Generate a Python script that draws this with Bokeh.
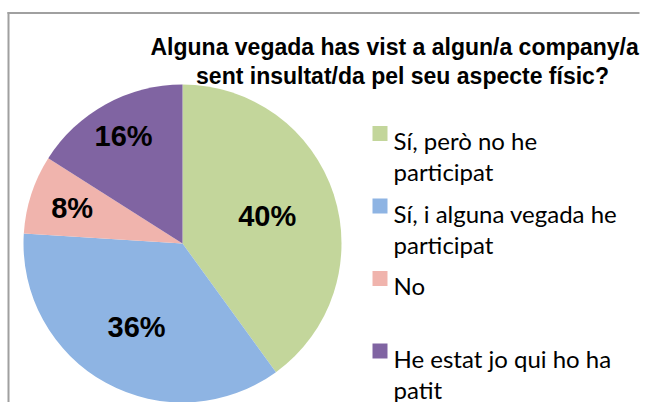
import math
from bokeh.plotting import figure
from bokeh.models import Range1d, ColumnDataSource
from bokeh.core.properties import value
from bokeh.embed import file_html
from bokeh.resources import INLINE

# ---- data ----
title_lines = ["Alguna vegada has vist a algun/a company/a",
               "sent insultat/da pel seu aspecte físic?"]
categories = ["Sí, però no he participat",
              "Sí, i alguna vegada he participat",
              "No",
              "He estat jo qui ho ha patit"]
legend_lines = [["Sí, però no he", "participat"],
                ["Sí, i alguna vegada he", "participat"],
                ["No"],
                ["He estat jo qui ho ha", "patit"]]
values = [40, 36, 8, 16]
colors = ["#C3D69B", "#8EB4E3", "#F0B4AD", "#8064A2"]

# ---- layout (image pixel coordinates) ----
W, H = 641, 402
IMG_H = 418


def Y(y_img):
    return IMG_H - y_img


cx, cy, R = 182, Y(243), 159
label_r = [0.56, 0.60, 0.73, 0.77]

p = figure(width=W, height=H, output_backend="svg", toolbar_location=None,
           x_range=Range1d(0, W), y_range=Range1d(IMG_H - H, IMG_H),
           min_border=0, tools="")
p.axis.visible = False
p.grid.visible = False
p.outline_line_color = None
p.background_fill_color = "white"
p.border_fill_color = "white"

# border of chart area (left and top edges visible), as thin filled bars
p.quad(left=[7, 7], right=[9, W - 2], top=[Y(11.5), Y(11.5)], bottom=[Y(416), Y(13.5)],
       fill_color="#A0A0A0", line_color=None)

# pie
total = float(sum(values))
cum = 0.0
starts, ends, mids = [], [], []
for v in values:
    a0 = math.pi / 2 - cum / total * 2 * math.pi
    cum += v
    a1 = math.pi / 2 - cum / total * 2 * math.pi
    starts.append(a1)
    ends.append(a0)
    mids.append((a0 + a1) / 2)

src = ColumnDataSource(dict(start=starts, end=ends, color=colors,
                            cat=categories, val=values))
p.wedge(x=cx, y=cy, radius=R, start_angle="start", end_angle="end",
        fill_color="color", line_color=None, source=src)

# percentage labels
lx = [cx + R * f * math.cos(m) for f, m in zip(label_r, mids)]
ly = [cy + R * f * math.sin(m) for f, m in zip(label_r, mids)]
pct = ["%d%%" % round(v / total * 100) for v in values]
p.text(x=lx, y=ly, text=pct, text_font=value("Liberation Sans"),
       text_font_style="bold", text_font_size="29px", text_align="center",
       text_baseline="middle", text_color="black")

# title
p.text(x=[150], y=[Y(46)], text=[title_lines[0]],
       text_font=value("Liberation Sans"), text_font_style="bold",
       text_font_size="23px", text_align="left", text_baseline="alphabetic",
       text_color="black")
p.text(x=[402], y=[Y(75)], text=[title_lines[1]],
       text_font=value("Liberation Sans"), text_font_style="bold",
       text_font_size="23px", text_align="center", text_baseline="alphabetic",
       text_color="black")

# legend
leg_x_sq, leg_sq = 379.5, 15
leg_y0, leg_dy, line_dy = 133, 72.5, 31
for i, (lines, c) in enumerate(zip(legend_lines, colors)):
    yc = leg_y0 + i * leg_dy
    p.rect(x=[leg_x_sq], y=[Y(yc)], width=leg_sq, height=leg_sq,
           fill_color=c, line_color=None)
    for j, t in enumerate(lines):
        p.text(x=[393], y=[Y(yc + 7 + j * line_dy)], text=[t],
               text_font=value("Lato"), text_font_size="24px",
               text_align="left", text_baseline="alphabetic", text_color="black")

open("out.html", "w").write(file_html(p, INLINE))
